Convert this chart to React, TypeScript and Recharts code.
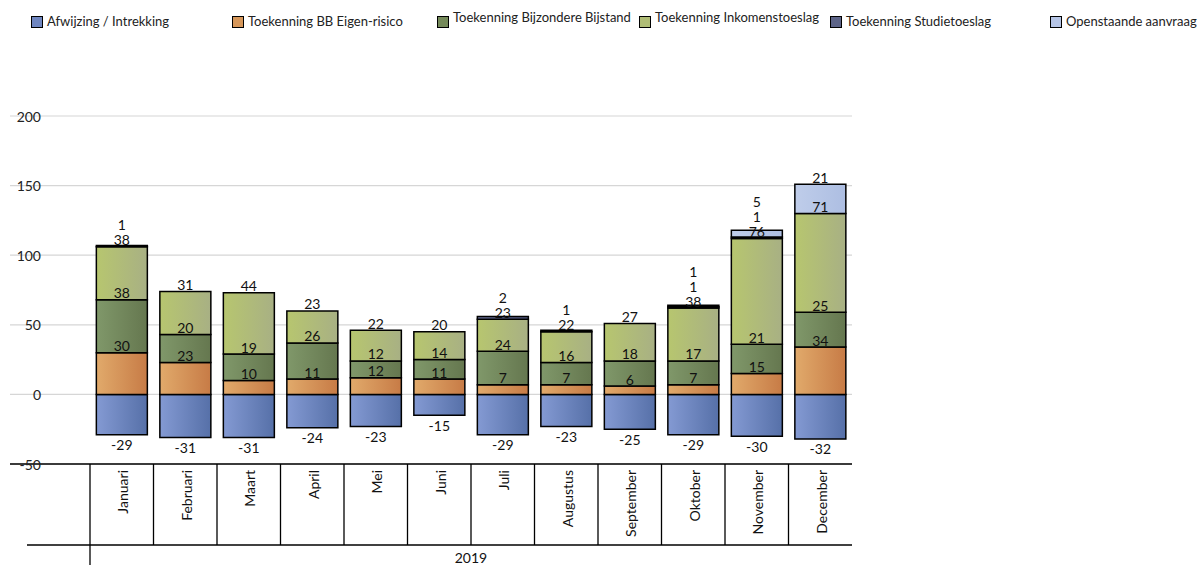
import { BarChart, Bar, XAxis, YAxis, CartesianGrid, LabelList } from 'recharts';

const months = ['Januari', 'Februari', 'Maart', 'April', 'Mei', 'Juni', 'Juli', 'Augustus', 'September', 'Oktober', 'November', 'December'];
const year = '2019';

const afwijzing = [-29, -31, -31, -24, -23, -15, -29, -23, -25, -29, -30, -32];
const bbEigenRisico = [30, 23, 10, 11, 12, 11, 7, 7, 6, 7, 15, 34];
const bijzondereBijstand = [38, 20, 19, 26, 12, 14, 24, 16, 18, 17, 21, 25];
const inkomenstoeslag = [38, 31, 44, 23, 22, 20, 23, 22, 27, 38, 76, 71];
const studietoeslag = [1, 0, 0, 0, 0, 0, 2, 1, 0, 1, 1, 0];
const openstaand = [0, 0, 0, 0, 0, 0, 0, 0, 0, 1, 5, 21];

const seriesKeys = ['afw', 'bb', 'bijz', 'ink', 'stud', 'open'];
const seriesNames = [
  'Afwijzing / Intrekking',
  'Toekenning BB Eigen-risico',
  'Toekenning Bijzondere Bijstand',
  'Toekenning Inkomenstoeslag',
  'Toekenning Studietoeslag',
  'Openstaande aanvraag',
];
const yTicks = [-50, 0, 50, 100, 150, 200];

// styling / layout
const W = 1197;
const H = 565;
const PLOT_TOP = 116;
const PLOT_BOTTOM = 464;
const PLOT_LEFT = 10;
const PLOT_RIGHT = 852;
const PAD_LEFT = 80;
const BAND = (PLOT_RIGHT - PLOT_LEFT - PAD_LEFT) / months.length;
const Y_MIN = -50;
const Y_MAX = 200;
const PPU = (PLOT_BOTTOM - PLOT_TOP) / (Y_MAX - Y_MIN);
const FONT = 'Lato, "Open Sans", sans-serif';

const gradients = [
  ['#849ad3', '#5670a8'],
  ['#e1aa6b', '#c77b46'],
  ['#80986a', '#65774f'],
  ['#b7c66f', '#a8b084'],
  ['#6b729b', '#4f5680'],
  ['#bfcdea', '#adbee2'],
];
const swatches = ['#6f86c0', '#d6975a', '#758a5a', '#b0bd76', '#5d6488', '#b6c5e6'];
const LEGEND_X = [31, 232, 437, 639, 830, 1050];
const LEGEND_TEXT_DY = [0, 0, -4, -4, 0, 0];

const data = months.map((month, i) => ({
  month,
  afw: afwijzing[i],
  bb: bbEigenRisico[i],
  bijz: bijzondereBijstand[i],
  ink: inkomenstoeslag[i],
  stud: studietoeslag[i],
  open: openstaand[i],
}));

const positives = [bbEigenRisico, bijzondereBijstand, inkomenstoeslag, studietoeslag, openstaand];

// labels sit just above each segment; small stacked ones get pushed up a line
function positiveLabelY(month: number, k: number, segTop: number) {
  let prev = Infinity;
  let result = segTop - 7;
  for (let j = 0; j <= k; j++) {
    const v = positives[j][month];
    if (!v) continue;
    let above = 0;
    for (let m = j + 1; m <= k; m++) above += positives[m][month];
    let ly = segTop + above * PPU - 7;
    if (ly > prev - 15) ly = prev - 15;
    prev = ly;
    if (j === k) result = ly;
  }
  return result;
}

const makeLabel = (seriesIdx: number) => (props: any) => {
  const vb = props.viewBox || {};
  const x = vb.x ?? props.x;
  const y = vb.y ?? props.y;
  const w = vb.width ?? props.width;
  const h = vb.height ?? props.height;
  const value = Number(props.value);
  if (!value || x == null) return null;
  const cx = x + w / 2;
  const month = Math.round((cx - PLOT_LEFT - PAD_LEFT - BAND / 2) / BAND);
  const top = Math.min(y, y + h);
  const bottom = Math.max(y, y + h);
  const ty = seriesIdx === 0 ? bottom + 10 : positiveLabelY(month, seriesIdx - 1, top);
  return (
    <text x={cx} y={ty} textAnchor="middle" dominantBaseline="central" fontFamily={FONT} fontSize={14} fill="#111">
      {value}
    </text>
  );
};

const YTick = (p: any) => (
  <text x={41} y={p.y} textAnchor="end" dominantBaseline="central" fontFamily={FONT} fontSize={14} fill="#222">
    {p.payload.value}
  </text>
);

const MonthTick = (p: any) => {
  const { x, payload, index } = p;
  const left = x - BAND / 2;
  return (
    <g>
      <line x1={left} x2={left} y1={PLOT_BOTTOM} y2={index === 0 ? H : 545} stroke="#000" strokeWidth={1.3} />
      <text
        transform={`translate(${x + 1}, ${PLOT_BOTTOM + 6}) rotate(-90)`}
        textAnchor="end"
        dominantBaseline="central"
        fontFamily={FONT}
        fontSize={14}
        fill="#111"
      >
        {payload.value}
      </text>
      {index === 0 && (
        <>
          <line x1={27} x2={PLOT_RIGHT} y1={545} y2={545} stroke="#000" strokeWidth={1.3} />
          <text x={(left + PLOT_RIGHT) / 2} y={557} textAnchor="middle" dominantBaseline="central" fontFamily={FONT} fontSize={14} fill="#111">
            {year}
          </text>
        </>
      )}
    </g>
  );
};

export default function App() {
  return (
    <div style={{ position: 'absolute', left: 0, top: 0, width: W, height: H, background: '#fff' }}>
      {seriesNames.map((name, i) => (
        <div
          key={name}
          style={{ position: 'absolute', left: LEGEND_X[i], top: 15, display: 'flex', alignItems: 'flex-start', fontFamily: FONT, fontSize: 13, color: '#222', whiteSpace: 'nowrap' }}
        >
          <span style={{ width: 10, height: 10, border: '1px solid #000', background: swatches[i], display: 'inline-block', marginTop: 1 }} />
          <span style={{ marginLeft: 4, position: 'relative', top: LEGEND_TEXT_DY[i] - 2 }}>{name}</span>
        </div>
      ))}
      <BarChart
        width={W}
        height={H}
        data={data}
        stackOffset="sign"
        barCategoryGap="10%"
        margin={{ top: PLOT_TOP, right: W - PLOT_RIGHT, bottom: 0, left: PLOT_LEFT - 1 }}
      >
        <defs>
          {gradients.map(([a, b], i) => (
            <linearGradient key={i} id={`grad-${i}`} x1="0" y1="0" x2="1" y2="0">
              <stop offset="0%" stopColor={a} />
              <stop offset="100%" stopColor={b} />
            </linearGradient>
          ))}
        </defs>
        <CartesianGrid vertical={false} stroke="#d6d6d6" strokeWidth={1.2} />
        <XAxis
          dataKey="month"
          interval={0}
          height={H - PLOT_BOTTOM}
          tickLine={false}
          axisLine={{ stroke: '#000', strokeWidth: 1.3 }}
          padding={{ left: PAD_LEFT, right: 0 }}
          tick={MonthTick}
        />
        <YAxis width={1} domain={[Y_MIN, Y_MAX]} ticks={yTicks} axisLine={false} tickLine={false} tick={YTick} interval={0} />
        {seriesKeys.map((key, i) => (
          <Bar key={key} dataKey={key} name={seriesNames[i]} stackId="a" fill={`url(#grad-${i})`} stroke="#000" strokeWidth={1.5} isAnimationActive={false}>
            <LabelList dataKey={key} content={makeLabel(i)} />
          </Bar>
        ))}
      </BarChart>
    </div>
  );
}
